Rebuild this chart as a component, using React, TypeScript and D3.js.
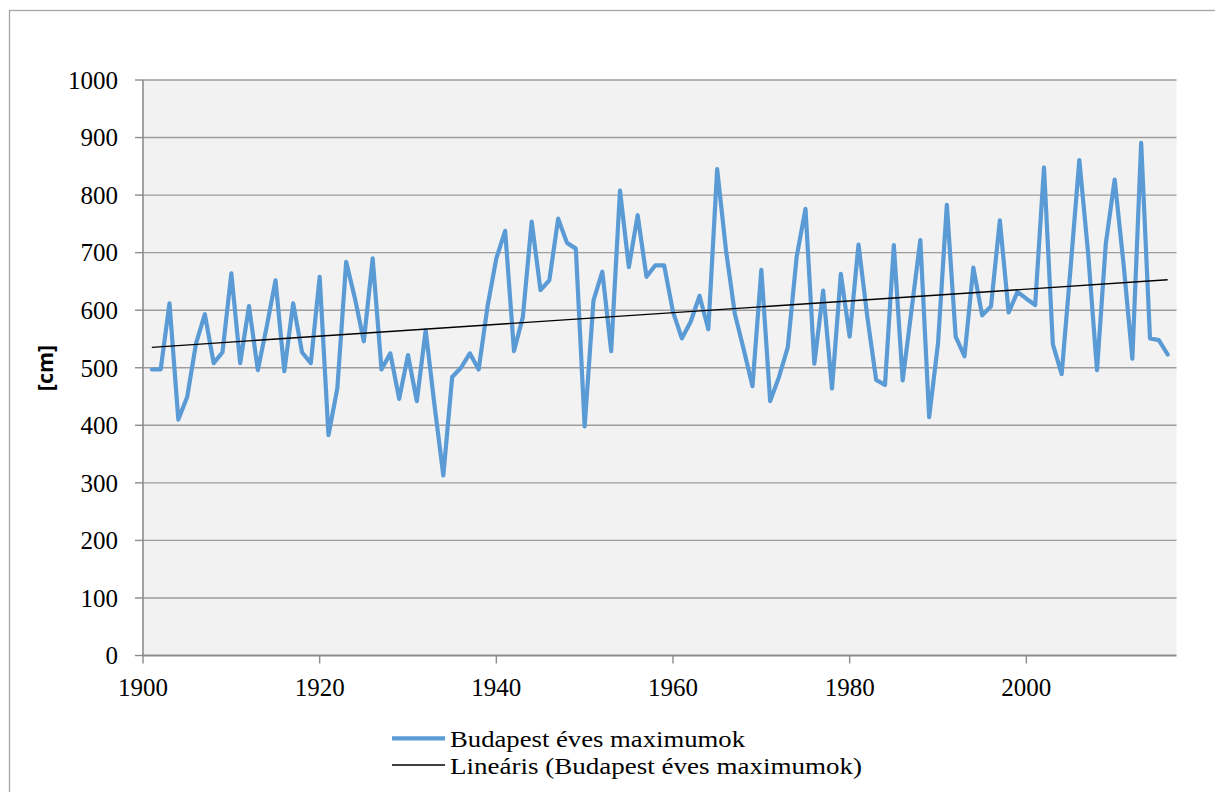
import React from "react";
import * as d3 from "d3";

const years: number[] = d3.range(1901, 2017);
const maxima: number[] = [
  497, 497, 612, 410, 449, 542, 593, 508, 527, 664,
  508, 607, 496, 571, 652, 494, 612, 527, 508, 658,
  383, 464, 684, 620, 546, 690, 497, 525, 446, 522,
  442, 565, 435, 313, 484, 500, 525, 497, 606, 690,
  738, 529, 588, 754, 635, 652, 759, 717, 707, 398,
  617, 667, 529, 808, 675, 765, 658, 678, 678, 597,
  551, 580, 625, 567, 845, 704, 594, 532, 468, 670,
  442, 484, 536, 693, 776, 507, 634, 464, 663, 554,
  714, 588, 479, 470, 713, 478, 600, 722, 414, 542,
  783, 554, 520, 674, 591, 607, 756, 596, 632, 620,
  609, 848, 541, 489, 672, 861, 698, 496, 716, 827,
  681, 516, 891, 551, 548, 523,
];
const xTicks: number[] = [1900, 1920, 1940, 1960, 1980, 2000];
const yTicks: number[] = [0, 100, 200, 300, 400, 500, 600, 700, 800, 900, 1000];
const seriesName = "Budapest éves maximumok";
const trendName = "Lineáris (Budapest éves maximumok)";
const yLabel = "[cm]";

export default function App() {
  const W = 1215, H = 792;
  const left = 143, right = 1176.5, top = 80, bottom = 655.5;
  const x = d3.scaleLinear().domain([1900, 2017]).range([left, right]);
  const y = d3.scaleLinear().domain([0, 1000]).range([bottom, top]);

  const pts = years.map((yr, i) => [yr, maxima[i]] as [number, number]);
  const line = d3.line<[number, number]>().x(d => x(d[0])).y(d => y(d[1]));

  // least squares trend
  const mx = d3.mean(years)!;
  const my = d3.mean(maxima)!;
  let num = 0, den = 0;
  years.forEach((yr, i) => { num += (yr - mx) * (maxima[i] - my); den += (yr - mx) ** 2; });
  const slope = num / den;
  const icpt = my - slope * mx;
  const t0 = years[0], t1 = years[years.length - 1];

  const serif = "'Liberation Serif', 'Times New Roman', serif";
  const fs = 25;

  return (
    <svg width={W} height={H} style={{ position: "absolute", left: 0, top: 0, background: "#fff" }}>
      <rect x={9.5} y={10.5} width={1215} height={800} fill="#fff" stroke="#a6a6a6" strokeWidth={1.3} />
      <rect x={left} y={top} width={right - left} height={bottom - top} fill="#f2f2f2" />
      {yTicks.map(t => (
        <g key={"y" + t}>
          {t > 0 && <line x1={left} x2={right} y1={y(t)} y2={y(t)} stroke="#9d9d9d" strokeWidth={1.4} />}
          <line x1={left - 8} x2={left} y1={y(t)} y2={y(t)} stroke="#8c8c8c" strokeWidth={1.4} />
          <text x={118} y={y(t)} dy="0.35em" textAnchor="end" fontFamily={serif} fontSize={fs} fill="#000">{t}</text>
        </g>
      ))}
      {xTicks.map(t => (
        <g key={"x" + t}>
          <line x1={x(t)} x2={x(t)} y1={bottom} y2={bottom + 8} stroke="#8c8c8c" strokeWidth={1.4} />
          <text x={x(t)} y={696} textAnchor="middle" fontFamily={serif} fontSize={fs} fill="#000">{t}</text>
        </g>
      ))}
      <line x1={left} x2={left} y1={top} y2={bottom} stroke="#8c8c8c" strokeWidth={1.6} />
      <line x1={left} x2={right} y1={bottom} y2={bottom} stroke="#8c8c8c" strokeWidth={1.8} />
      <path d={line(pts) ?? ""} fill="none" stroke="#5b9bd5" strokeWidth={4.2} strokeLinejoin="round" strokeLinecap="round" />
      <line x1={x(t0)} x2={x(t1)} y1={y(icpt + slope * t0)} y2={y(icpt + slope * t1)} stroke="#000" strokeWidth={1.4} />
      <text transform={`translate(45,368) rotate(-90)`} textAnchor="middle" dy="0.35em" fontFamily="'Open Sans', 'Liberation Sans', sans-serif" fontWeight="bold" fontSize={21.5} fill="#000">{yLabel}</text>
      <line x1={392} x2={445} y1={738.3} y2={738.3} stroke="#5b9bd5" strokeWidth={4.2} />
      <text x={450} y={747} fontFamily={serif} fontSize={23.5} textLength={295} lengthAdjust="spacingAndGlyphs" fill="#000">{seriesName}</text>
      <line x1={392} x2={445} y1={765} y2={765} stroke="#000" strokeWidth={1.4} />
      <text x={450} y={773.5} fontFamily={serif} fontSize={23.5} textLength={412} lengthAdjust="spacingAndGlyphs" fill="#000">{trendName}</text>
    </svg>
  );
}
